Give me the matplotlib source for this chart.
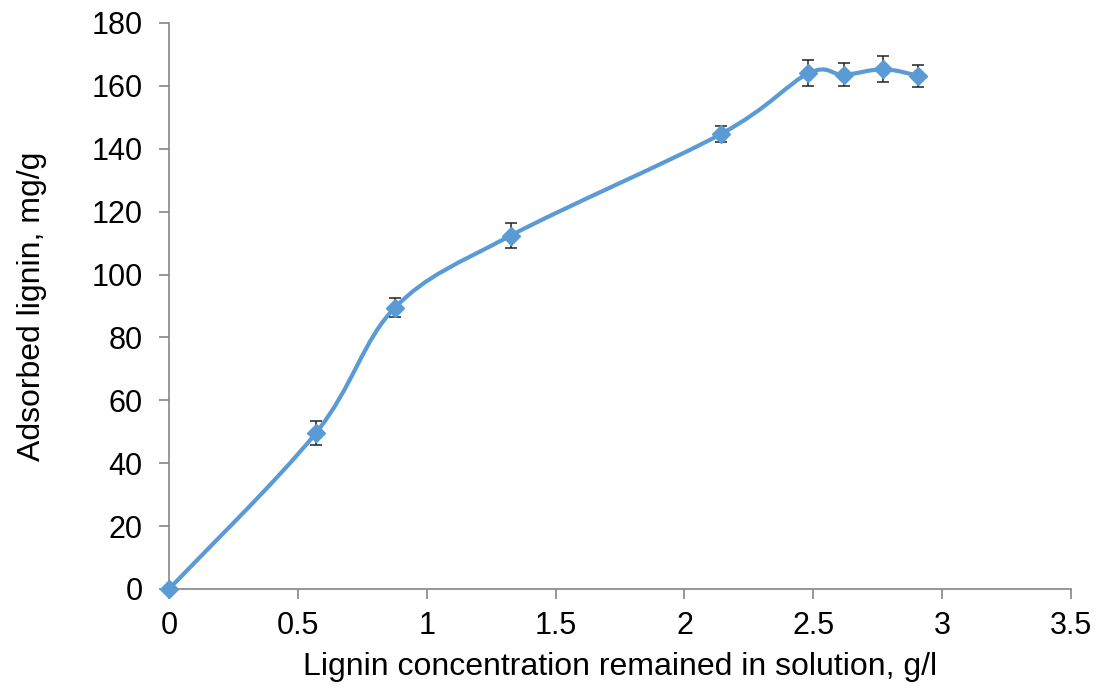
import numpy as np
import matplotlib.pyplot as plt
from matplotlib.path import Path
from matplotlib.patches import PathPatch

plt.rcParams['font.family'] = ['Liberation Sans', 'DejaVu Sans']

# data
conc = [0, 0.57, 0.877, 1.326, 2.142, 2.481, 2.618, 2.772, 2.908]
adsorbed = [0, 49.6, 89.5, 112.4, 144.7, 164.0, 163.5, 165.3, 163.2]
err = [0, 3.9, 3.0, 4.0, 2.6, 4.2, 3.7, 4.1, 3.5]

xticks = [0, 0.5, 1, 1.5, 2, 2.5, 3, 3.5]
xticklabels = ['0', '0.5', '1', '1.5', '2', '2.5', '3', '3.5']
yticks = [0, 20, 40, 60, 80, 100, 120, 140, 160, 180]

blue = '#5B9BD5'
gray = '#868686'


def smooth_path(x, y):
    # excel-style smoothed line: bezier segments, control points from neighbours / 6
    pts = np.column_stack([x, y])
    n = len(pts)
    verts = [pts[0]]
    codes = [Path.MOVETO]
    for i in range(n - 1):
        p0 = pts[i - 1] if i > 0 else pts[i]
        p1 = pts[i]
        p2 = pts[i + 1]
        p3 = pts[i + 2] if i + 2 < n else pts[i + 1]
        c1 = p1 + (p2 - p0) / 6
        c2 = p2 - (p3 - p1) / 6
        verts += [c1, c2, p2]
        codes += [Path.CURVE4] * 3
    return Path(verts, codes)


fig = plt.figure(figsize=(11.01, 6.9), dpi=100)
ax = fig.add_axes([0.1535, 0.1464, 0.8193, 0.8203])

ax.add_patch(PathPatch(smooth_path(conc, adsorbed), fill=False, edgecolor=blue,
                       lw=3, capstyle='round', zorder=2, clip_on=False))
ax.errorbar(conc, adsorbed, yerr=err, fmt='none', ecolor='#222222', elinewidth=1.1,
            capsize=4.5, capthick=1.1, zorder=3)
ax.plot(conc, adsorbed, linestyle='none', marker='D', markersize=9,
        color=blue, zorder=4, clip_on=False)

ax.set_xlim(0, 3.5)
ax.set_ylim(0, 180)
ax.set_xticks(xticks)
ax.set_xticklabels(xticklabels)
ax.set_yticks(yticks)

for side in ['top', 'right']:
    ax.spines[side].set_visible(False)
for side in ['left', 'bottom']:
    ax.spines[side].set_color(gray)
    ax.spines[side].set_linewidth(1.2)

ax.tick_params(axis='both', colors=gray, labelcolor='black', labelsize=22,
               length=7, width=1.2, direction='out')
ax.tick_params(axis='x', pad=9)
ax.tick_params(axis='y', pad=12)

ax.set_xlabel('Lignin concentration remained in solution, g/l', fontsize=23, labelpad=8)
ax.set_ylabel('Adsorbed lignin, mg/g', fontsize=23, labelpad=32)

fig.savefig('out.png', dpi=100)
